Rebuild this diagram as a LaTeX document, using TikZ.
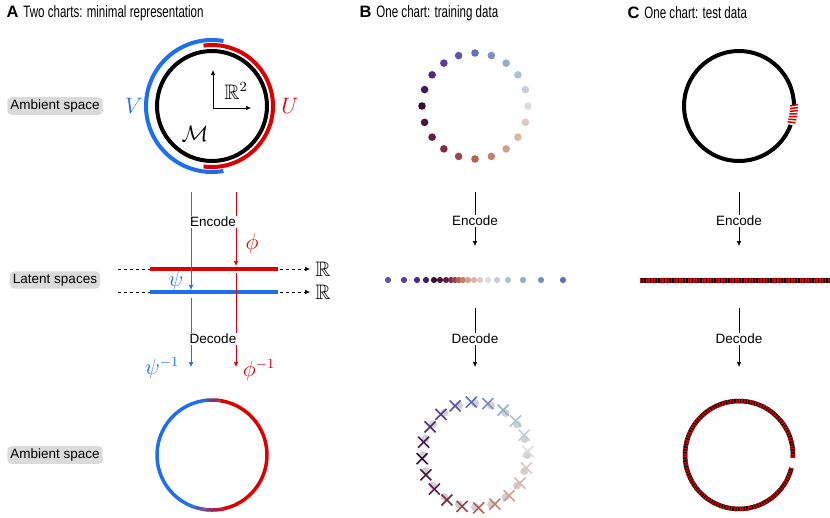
\documentclass[tikz,border=0pt]{standalone}
\usepackage{amssymb}
\usepackage{fontspec}
\setsansfont{Liberation Sans}
\usetikzlibrary{arrows.meta,calc}
\definecolor{cA}{RGB}{220,0,0}
\definecolor{cB}{RGB}{30,110,240}
\definecolor{c0}{RGB}{226,217,226}
\definecolor{c1}{RGB}{160,190,203}
\definecolor{c2}{RGB}{95,110,190}
\definecolor{c3}{RGB}{90,45,145}
\definecolor{c4}{RGB}{50,15,50}
\definecolor{c5}{RGB}{115,30,75}
\definecolor{c6}{RGB}{185,95,80}
\definecolor{c7}{RGB}{215,175,155}
\definecolor{c8}{RGB}{226,217,226}
\newcommand{\mbig}[1]{\scalebox{1.55}{$#1$}}
\newcommand{\twc}[1]{%
 \pgfmathsetmacro\tv{0.4*#1}%
 \pgfmathtruncatemacro\sg{floor(\tv)}%
 \pgfmathtruncatemacro\sn{\sg+1}%
 \pgfmathsetmacro\pp{100*(1-(\tv-\sg))}%
 \colorlet{dc}{c\sg!\pp!c\sn}}
\begin{document}
\begin{tikzpicture}[x=1pt,y=-1pt,font=\sffamily\fontsize{13.5}{15}\selectfont,
  lab/.style={fill=black!14,rounded corners=4pt,inner xsep=3pt,inner ysep=2.5pt},
  hdr/.style={anchor=west,font=\sffamily\fontsize{16.5}{18}\selectfont},
  cod/.style={fill=white,inner sep=1.5pt},
  arr/.style={-{Latex[length=5pt,width=4.5pt]},line width=0.6pt},
  mth/.style={inner sep=1pt}]
\useasboundingbox (0,0) rectangle (830,517);
% headers
\node[hdr] (hA) at (3,13) {\textbf{A}\hspace{5pt}\scalebox{0.7}[1]{Two charts: minimal representation}};
\node[hdr] (hB) at (356,13) {\textbf{B}\hspace{5pt}\scalebox{0.7}[1]{One chart: training data}};
\node[hdr] (hC) at (624,13) {\textbf{C}\hspace{5pt}\scalebox{0.7}[1]{One chart: test data}};
% side labels
\node[lab] (l1) at (55,106) {Ambient space};
\node[lab] (l2) at (55,280) {Latent spaces};
\node[lab] (l3) at (55,455) {Ambient space};
% ===== Panel A
\coordinate (A1) at (212,106);
\draw[cB,line width=4pt] ([shift={(-80:66)}]A1) arc[start angle=-80,end angle=-280,radius=66];
\draw[cA,line width=4pt] ([shift={(98:61)}]A1) arc[start angle=98,end angle=-98,radius=61];
\draw[line width=4pt] (A1) circle (55);
\coordinate (o) at (213,108);
\coordinate (ox) at (251,108);
\coordinate (oy) at (213,70);
\draw[arr] (o) -- (oy);
\draw[arr] (o) -- (ox);
\node[mth] (R2) at (236,91) {\mbig{\mathbb{R}^2}};
\node[mth] (M) at (195,134) {\mbig{\mathcal{M}}};
\node[mth,text=cB] (V) at (134,106) {\mbig{V}};
\node[mth,text=cA] (U) at (290,106) {\mbig{U}};
% latent lines
\coordinate (rl) at (118,269); \coordinate (rr) at (310,269);
\coordinate (bl) at (118,292); \coordinate (br) at (310,292);
\draw[dashed,arr] (rl) -- (rr);
\draw[dashed,arr] (bl) -- (br);
\draw[cA,line width=4pt] (150,269) -- (278,269);
\draw[cB,line width=4pt] (150,292) -- (278,292);
\node[mth] (Rr) at (323,269) {\mbig{\mathbb{R}}};
\node[mth] (Rb) at (323,292) {\mbig{\mathbb{R}}};
% arrows
\coordinate (b0) at (191,192); \coordinate (b1) at (191,290);
\coordinate (b2) at (191,298); \coordinate (b3) at (191,367);
\coordinate (r0) at (236,192); \coordinate (r1) at (236,266);
\coordinate (r2) at (236,273); \coordinate (r3) at (236,367);
\draw[arr,cB] (b0) -- (b1);
\draw[arr,cB] (b2) -- (b3);
\draw[arr,cA] (r0) -- (r1);
\draw[arr,cA] (r2) -- (r3);
\node[cod] (encA) at (213,222) {Encode};
\node[cod] (decA) at (213,339) {Decode};
\node[mth,text=cA] (phi) at (252,244) {\mbig{\phi}};
\node[mth,text=cB] (psi) at (176,281) {\mbig{\psi}};
\node[mth,text=cB] (psii) at (162,368) {\mbig{\psi^{-1}}};
\node[mth,text=cA] (phii) at (259,370) {\mbig{\phi^{-1}}};
% bottom circle A
\coordinate (A2) at (212,455);
\draw[cA,line width=3.5pt] ([shift={(-283:55)}]A2) arc[start angle=-283,end angle=-440,radius=55];
\draw[cB,line width=3.5pt] ([shift={(-99:55)}]A2) arc[start angle=-99,end angle=-246,radius=55];
\foreach \a in {0,...,19}{
  \pgfmathsetmacro\pp{100*\a/20}
  \draw[cB!\pp!cA,line width=3.5pt] ([shift={(-79-\a:55)}]A2) arc[start angle=-79-\a,end angle=-80.2-\a,radius=55];
}
\foreach \a in {0,...,37}{
  \pgfmathsetmacro\pp{100*\a/38}
  \draw[cA!\pp!cB,line width=3.5pt] ([shift={(-246-\a:55)}]A2) arc[start angle=-246-\a,end angle=-247.2-\a,radius=55];
}
% ===== Panel B
\coordinate (B1) at (475,106);
\foreach \i in {0,...,19}{
  \twc{\i}
  \fill[dc] ($(B1)+(-18*\i:53)$) circle (3.8);
}
\foreach \x [count=\k from 0] in {388,404,417,426,434,440,446,451,455,459,463,468,474,480,488,497,508,523,541,563}{
  \pgfmathtruncatemacro\ii{mod(6+\k,20)}
  \twc{\ii}
  \fill[dc] (\x,280) circle (3.1);
}
\coordinate (be0) at (475,192); \coordinate (be1) at (475,246);
\coordinate (bd0) at (475,308); \coordinate (bd1) at (475,367);
\draw[arr] (be0) -- (be1);
\draw[arr] (bd0) -- (bd1);
\node[cod] (encB) at (475,221) {Encode};
\node[cod] (decB) at (475,339) {Decode};
\coordinate (B2) at (475,455);
\foreach \i in {0,...,19}{
  \fill[black!18] ($(B2)+(-18*\i:52)$) circle (4);
}
\foreach \i in {0,...,19}{
  \twc{\i}
  \draw[dc,line width=1.6pt] ($(B2)+(-18*\i-4:53)+(-5.5,-5.5)$) -- ++(11,11);
  \draw[dc,line width=1.6pt] ($(B2)+(-18*\i-4:53)+(-5.5,5.5)$) -- ++(11,-11);
}
% ===== Panel C
\coordinate (C1) at (739,106);
\draw[line width=4pt] (C1) circle (55);
\draw[white,line width=5pt] ([shift={(-1:55)}]C1) arc[start angle=-1,end angle=20,radius=55];
\foreach \a in {0,3,...,18}{
  \draw[cA,line width=1.5pt] ($(C1)+(\a:51)$) -- ($(C1)+(\a-1.5:59)$);
}
\coordinate (ce0) at (739,192); \coordinate (ce1) at (739,246);
\coordinate (cd0) at (739,308); \coordinate (cd1) at (739,367);
\draw[arr] (ce0) -- (ce1);
\draw[arr] (cd0) -- (cd1);
\node[cod] (encC) at (739,221) {Encode};
\node[cod] (decC) at (739,339) {Decode};
\coordinate (cl0) at (640,280); \coordinate (cl1) at (830,280);
\draw[line width=5pt] (cl0) -- (cl1);
\draw[cA,line width=5pt,dash pattern=on 1.4pt off 1.4pt] (cl0) -- (cl1);
\coordinate (C2) at (739,455);
\draw[line width=4.5pt] ([shift={(3:54)}]C2) arc[start angle=3,end angle=-346,radius=54];
\draw[cA,line width=4.5pt,dash pattern=on 1.4pt off 1.4pt] ([shift={(3:54)}]C2) arc[start angle=3,end angle=-346,radius=54];
\end{tikzpicture}
\end{document}
